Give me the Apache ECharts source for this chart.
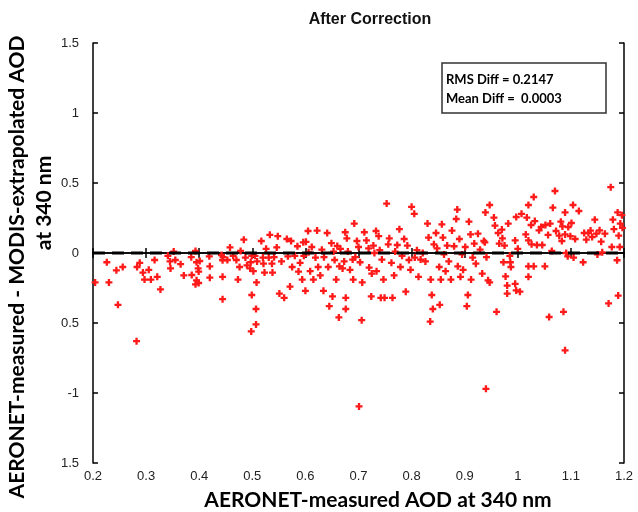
<!DOCTYPE html>
<html>
<head>
<meta charset="utf-8">
<script src="https://cdn.jsdelivr.net/npm/echarts@6/dist/echarts.min.js"></script>
<style>
  html, body { margin: 0; padding: 0; background: #fff; }
  #main { width: 638px; height: 512px; }
</style>
</head>
<body>
<div id="main"></div>
<script>
// axis ticks (y labels printed as in the figure, minus signs lost on -0.5 / -1.5)
const yTicks = [-1.5, -1, -0.5, 0, 0.5, 1, 1.5]
const yTickLabels = ['1.5', '-1', '0.5', '0', '0.5', '1', '1.5']
const statLines = ['RMS Diff = 0.2147', 'Mean Diff =  0.0003']

// AERONET-measured AOD at 340 nm
const aodMeasured = [
  0.204, 0.226, 0.230, 0.244, 0.247, 0.256, 0.282, 0.283, 0.288, 0.294, 0.297, 0.305, 0.309, 0.316,
  0.321, 0.327, 0.341, 0.345, 0.346, 0.352, 0.355, 0.365, 0.371, 0.385, 0.386, 0.393, 0.395, 0.398,
  0.399, 0.395, 0.393, 0.399, 0.401, 0.42, 0.42, 0.419, 0.442, 0.444, 0.444, 0.444,
  0.445, 0.458, 0.453, 0.464, 0.47, 0.473, 0.476, 0.478, 0.484, 0.487, 0.49, 0.496, 0.497, 0.499,
  0.499, 0.502, 0.505, 0.507, 0.507, 0.498, 0.508, 0.509, 0.517, 0.52, 0.521, 0.523, 0.526, 0.531,
  0.533, 0.537, 0.538, 0.541, 0.546, 0.548, 0.551, 0.555, 0.56, 0.565, 0.567, 0.571, 0.573, 0.575,
  0.58, 0.585, 0.587, 0.59, 0.594, 0.596, 0.597, 0.60, 0.601, 0.605, 0.606, 0.609, 0.612, 0.615,
  0.619, 0.622, 0.624, 0.628, 0.631, 0.634, 0.635, 0.641, 0.643, 0.645, 0.649, 0.651, 0.653, 0.655,
  0.658, 0.66, 0.663, 0.664, 0.666, 0.67, 0.673, 0.675, 0.676, 0.676, 0.678, 0.68, 0.684, 0.689, 0.692,
  0.697, 0.694, 0.69, 0.70, 0.703, 0.707, 0.706, 0.711, 0.715, 0.719, 0.72, 0.724, 0.725, 0.728,
  0.73, 0.733, 0.734, 0.738, 0.74, 0.742, 0.744, 0.747, 0.749, 0.753, 0.756, 0.758, 0.762, 0.764,
  0.767, 0.769, 0.773, 0.777, 0.779, 0.782, 0.786, 0.789, 0.792, 0.795, 0.798, 0.80, 0.805, 0.806,
  0.81, 0.813, 0.817, 0.821, 0.826, 0.83, 0.832, 0.835, 0.836, 0.838, 0.84, 0.842, 0.846, 0.848,
  0.852, 0.853, 0.855, 0.857, 0.859, 0.861, 0.864, 0.867, 0.87, 0.874, 0.876, 0.88, 0.884, 0.886,
  0.887, 0.89, 0.892, 0.895, 0.897, 0.901, 0.904, 0.906, 0.908, 0.911, 0.912, 0.915, 0.918, 0.921,
  0.925, 0.929, 0.933, 0.936, 0.939, 0.941, 0.944,
  0.938, 0.947, 0.947, 0.955, 0.957, 0.96, 0.963, 0.965, 0.97, 0.971, 0.973, 0.975, 0.977, 0.98,
  0.98, 0.982, 0.985, 0.986, 0.987, 0.995, 0.995, 0.997, 0.997, 1.0, 1.004, 1.007, 1.015, 1.017,
  1.02, 1.02, 1.02, 1.02, 1.025, 1.026, 1.03, 1.032, 1.03, 1.036, 1.04, 1.044, 1.046, 1.051, 1.052,
  1.059, 1.057, 1.061, 1.064, 1.066, 1.07, 1.072, 1.078, 1.081, 1.083, 1.084, 1.086, 1.089, 1.089,
  1.091, 1.094, 1.095, 1.099, 1.101, 1.104, 1.105, 1.108, 1.115, 1.123, 1.125, 1.129, 1.133, 1.137,
  1.14, 1.145, 1.148, 1.15, 1.154, 1.157, 1.159, 1.164, 1.171, 1.175, 1.177, 1.179, 1.181, 1.187,
  1.188, 1.189, 1.19, 1.192, 1.193, 1.196, 1.197,
  0.701, 0.94, 1.089
]

// AERONET-measured minus MODIS-extrapolated AOD at 340 nm
const aodDiff = [
  -0.21, -0.066, -0.21, -0.124, -0.37, -0.10, -0.63, -0.10, -0.07, -0.14, -0.19, -0.12, -0.19, -0.05,
  -0.17, -0.26, -0.02, -0.06, -0.11, 0.01, -0.05, -0.08, -0.16, -0.03, -0.157, 0.015, -0.066, -0.11,
  -0.133, -0.195, -0.224, -0.214, -0.057, -0.095, -0.176, -0.024, -0.014, -0.052, -0.17, -0.33,
  -0.03, 0.04, -0.05, -0.02, -0.05, -0.19, -0.10, 0.015, 0.095, -0.033, -0.088, -0.11, -0.066, -0.02,
  -0.30, -0.13, -0.02, -0.40, -0.51, -0.56, -0.21, -0.06, 0.086, -0.033, -0.076, -0.14, 0.03, -0.033,
  0.13, -0.076, -0.14, -0.03, 0.04, 0.12, -0.29, -0.06, -0.32, 0.10, -0.024, -0.24, 0.086, -0.10,
  -0.02, 0.048, -0.133, -0.07, -0.19, 0.076, -0.02, -0.27, 0.08, 0.157, 0.005, -0.13, 0.043, -0.19,
  -0.033, 0.16, -0.10, -0.16, 0.024, -0.27, -0.03, 0.143, -0.10, -0.38, 0.07, -0.31, 0.01, -0.05,
  -0.19, 0.05, -0.46, -0.095, 0.03, -0.11, -0.06, 0.148, -0.32, -0.40, 0.105, 0.01, -0.12, -0.047, 0.21,
  0.086, -0.03, -0.19, 0.043, -0.066, -0.21, -0.48, 0.148, 0.09, 0.033, -0.104, -0.31, -0.147, 0.053,
  0.0, 0.157, -0.13, 0.12, 0.02, -0.32, -0.047, -0.19, -0.32, 0.353, 0.062, 0.105, -0.07, -0.32,
  -0.16, 0.01, 0.057, 0.17, -0.10, -0.02, 0.10, -0.276, 0.053, -0.05, -0.12, 0.33, 0.28, -0.033,
  0.02, -0.17, -0.047, 0.0, -0.06, 0.21, 0.11, -0.49, -0.19, -0.30, -0.40, 0.062, 0.143, 0.033,
  -0.10, -0.37, -0.19, 0.205, 0.11, -0.01, -0.13, 0.053, -0.06, -0.19, 0.16, 0.048, 0.243, 0.31,
  -0.095, 0.10, -0.17, -0.01, -0.12, 0.043, -0.38, -0.30, 0.224, 0.133, -0.19, -0.033, 0.067, -0.076,
  0.138, 0.024, -0.147, 0.086, 0.29, -0.03, -0.195,
  0.076, 0.343, -0.21, 0.253, 0.196, -0.42, 0.143, 0.067, 0.167, 0.105, -0.066, 0.053, -0.167, -0.29,
  -0.233, 0.21, -0.02, -0.066, -0.10, 0.09, -0.22, 0.257, -0.267, 0.03, -0.276, 0.28, 0.133, 0.253,
  0.343, 0.09, -0.095, -0.17, 0.20, 0.062, 0.40, 0.228, -0.095, 0.057, 0.162, 0.186, 0.057, -0.095, 0.20,
  -0.457, 0.129, 0.21, 0.014, 0.324, 0.443, 0.157, 0.124, 0.224, 0.086, 0.19, -0.42, 0.29, 0.133,
  0.0, -0.024, 0.186, 0.12, 0.214, 0.343, -0.033, 0.10, 0.30, -0.066, 0.143, 0.095, 0.143, 0.16,
  0.114, 0.238, 0.138, -0.01, 0.162, 0.081, 0.005, 0.138, -0.36, 0.47, 0.043, 0.238, 0.17, -0.052,
  0.29, -0.304, 0.124, 0.043, 0.21, 0.27, 0.18,
  -1.096, -0.97, -0.695
]

const points = aodMeasured.map((x, i) => [x, aodDiff[i]])
const plusSymbol = 'path://M2,0H4V2H6V4H4V6H2V4H0V2H2Z'

const axisColor = '#000'
const tickFont = { color: '#222', fontSize: 13, fontFamily: 'Liberation Sans' }
const labelFont = 'bold 21px Lato'

const xLabel = v => String(+v.toFixed(1))
const yLabel = v => {
  const i = yTicks.findIndex(t => Math.abs(t - v) < 1e-6)
  return i >= 0 ? yTickLabels[i] : ''
}

const chart = echarts.init(document.getElementById('main'))
const option = {
  animation: false,
  backgroundColor: '#fff',
  grid: { left: 93, right: 14, top: 43, bottom: 49 },
  xAxis: [
    {
      type: 'value', min: 0.2, max: 1.2, interval: 0.1, position: 'bottom',
      axisLine: { lineStyle: { color: axisColor, width: 1.5 } },
      axisTick: { inside: true, length: 5, lineStyle: { color: axisColor, width: 1.5 } },
      axisLabel: { ...tickFont, margin: 7, formatter: xLabel },
      splitLine: { show: false }
    },
    {
      type: 'value', min: 0.2, max: 1.2, interval: 0.1, position: 'top',
      axisLine: { lineStyle: { color: axisColor, width: 1.5 } },
      axisTick: { inside: true, length: 5, lineStyle: { color: axisColor, width: 1.5 } },
      axisLabel: { show: false },
      splitLine: { show: false }
    }
  ],
  yAxis: [
    {
      type: 'value', min: -1.5, max: 1.5, interval: 0.5, position: 'left',
      axisLine: { lineStyle: { color: axisColor, width: 1.5 } },
      axisTick: { inside: true, length: 5, lineStyle: { color: axisColor, width: 1.5 } },
      axisLabel: { ...tickFont, margin: 14, formatter: yLabel },
      splitLine: { show: false }
    },
    {
      type: 'value', min: -1.5, max: 1.5, interval: 0.5, position: 'right',
      axisLine: { lineStyle: { color: axisColor, width: 1.5 } },
      axisTick: { inside: true, length: 5, lineStyle: { color: axisColor, width: 1.5 } },
      axisLabel: { show: false },
      splitLine: { show: false }
    }
  ],
  series: [
    {
      type: 'scatter',
      data: points,
      symbol: plusSymbol,
      symbolSize: 7,
      itemStyle: { color: '#ff1a1a', opacity: 1 },
      z: 2
    },
    {
      // zero reference line
      type: 'line',
      data: [[0.2, 0], [1.2, 0]],
      symbol: 'none',
      lineStyle: { color: '#000', width: 3, type: [12, 7] },
      z: 3
    }
  ],
  graphic: [
    {
      type: 'text', x: 370, y: 20,
      style: { text: 'After Correction', font: 'bold 16px "Liberation Sans"', fill: '#111', textAlign: 'center', textVerticalAlign: 'middle' }
    },
    {
      type: 'text', x: 378, y: 500,
      style: { text: 'AERONET-measured AOD at 340 nm', font: labelFont, fill: '#000', textAlign: 'center', textVerticalAlign: 'middle' }
    },
    {
      type: 'text', x: 17, y: 267, rotation: Math.PI / 2,
      style: { text: 'AERONET-measured - MODIS-extrapolated AOD', font: labelFont, fill: '#000', textAlign: 'center', textVerticalAlign: 'middle' }
    },
    {
      type: 'text', x: 44, y: 203, rotation: Math.PI / 2,
      style: { text: 'at 340 nm', font: labelFont, fill: '#000', textAlign: 'center', textVerticalAlign: 'middle' }
    },
    {
      type: 'rect', shape: { x: 442, y: 63, width: 164, height: 50 },
      style: { fill: '#fff', stroke: '#333', lineWidth: 1.5 }, z: 10
    },
    {
      type: 'text', x: 446, y: 80, z: 11,
      style: { text: statLines[0], font: 'bold 13px Lato', fill: '#000', textVerticalAlign: 'middle' }
    },
    {
      type: 'text', x: 446, y: 99, z: 11,
      style: { text: statLines[1], font: 'bold 13px Lato', fill: '#000', textVerticalAlign: 'middle' }
    }
  ]
}
chart.setOption(option)
</script>
</body>
</html>
